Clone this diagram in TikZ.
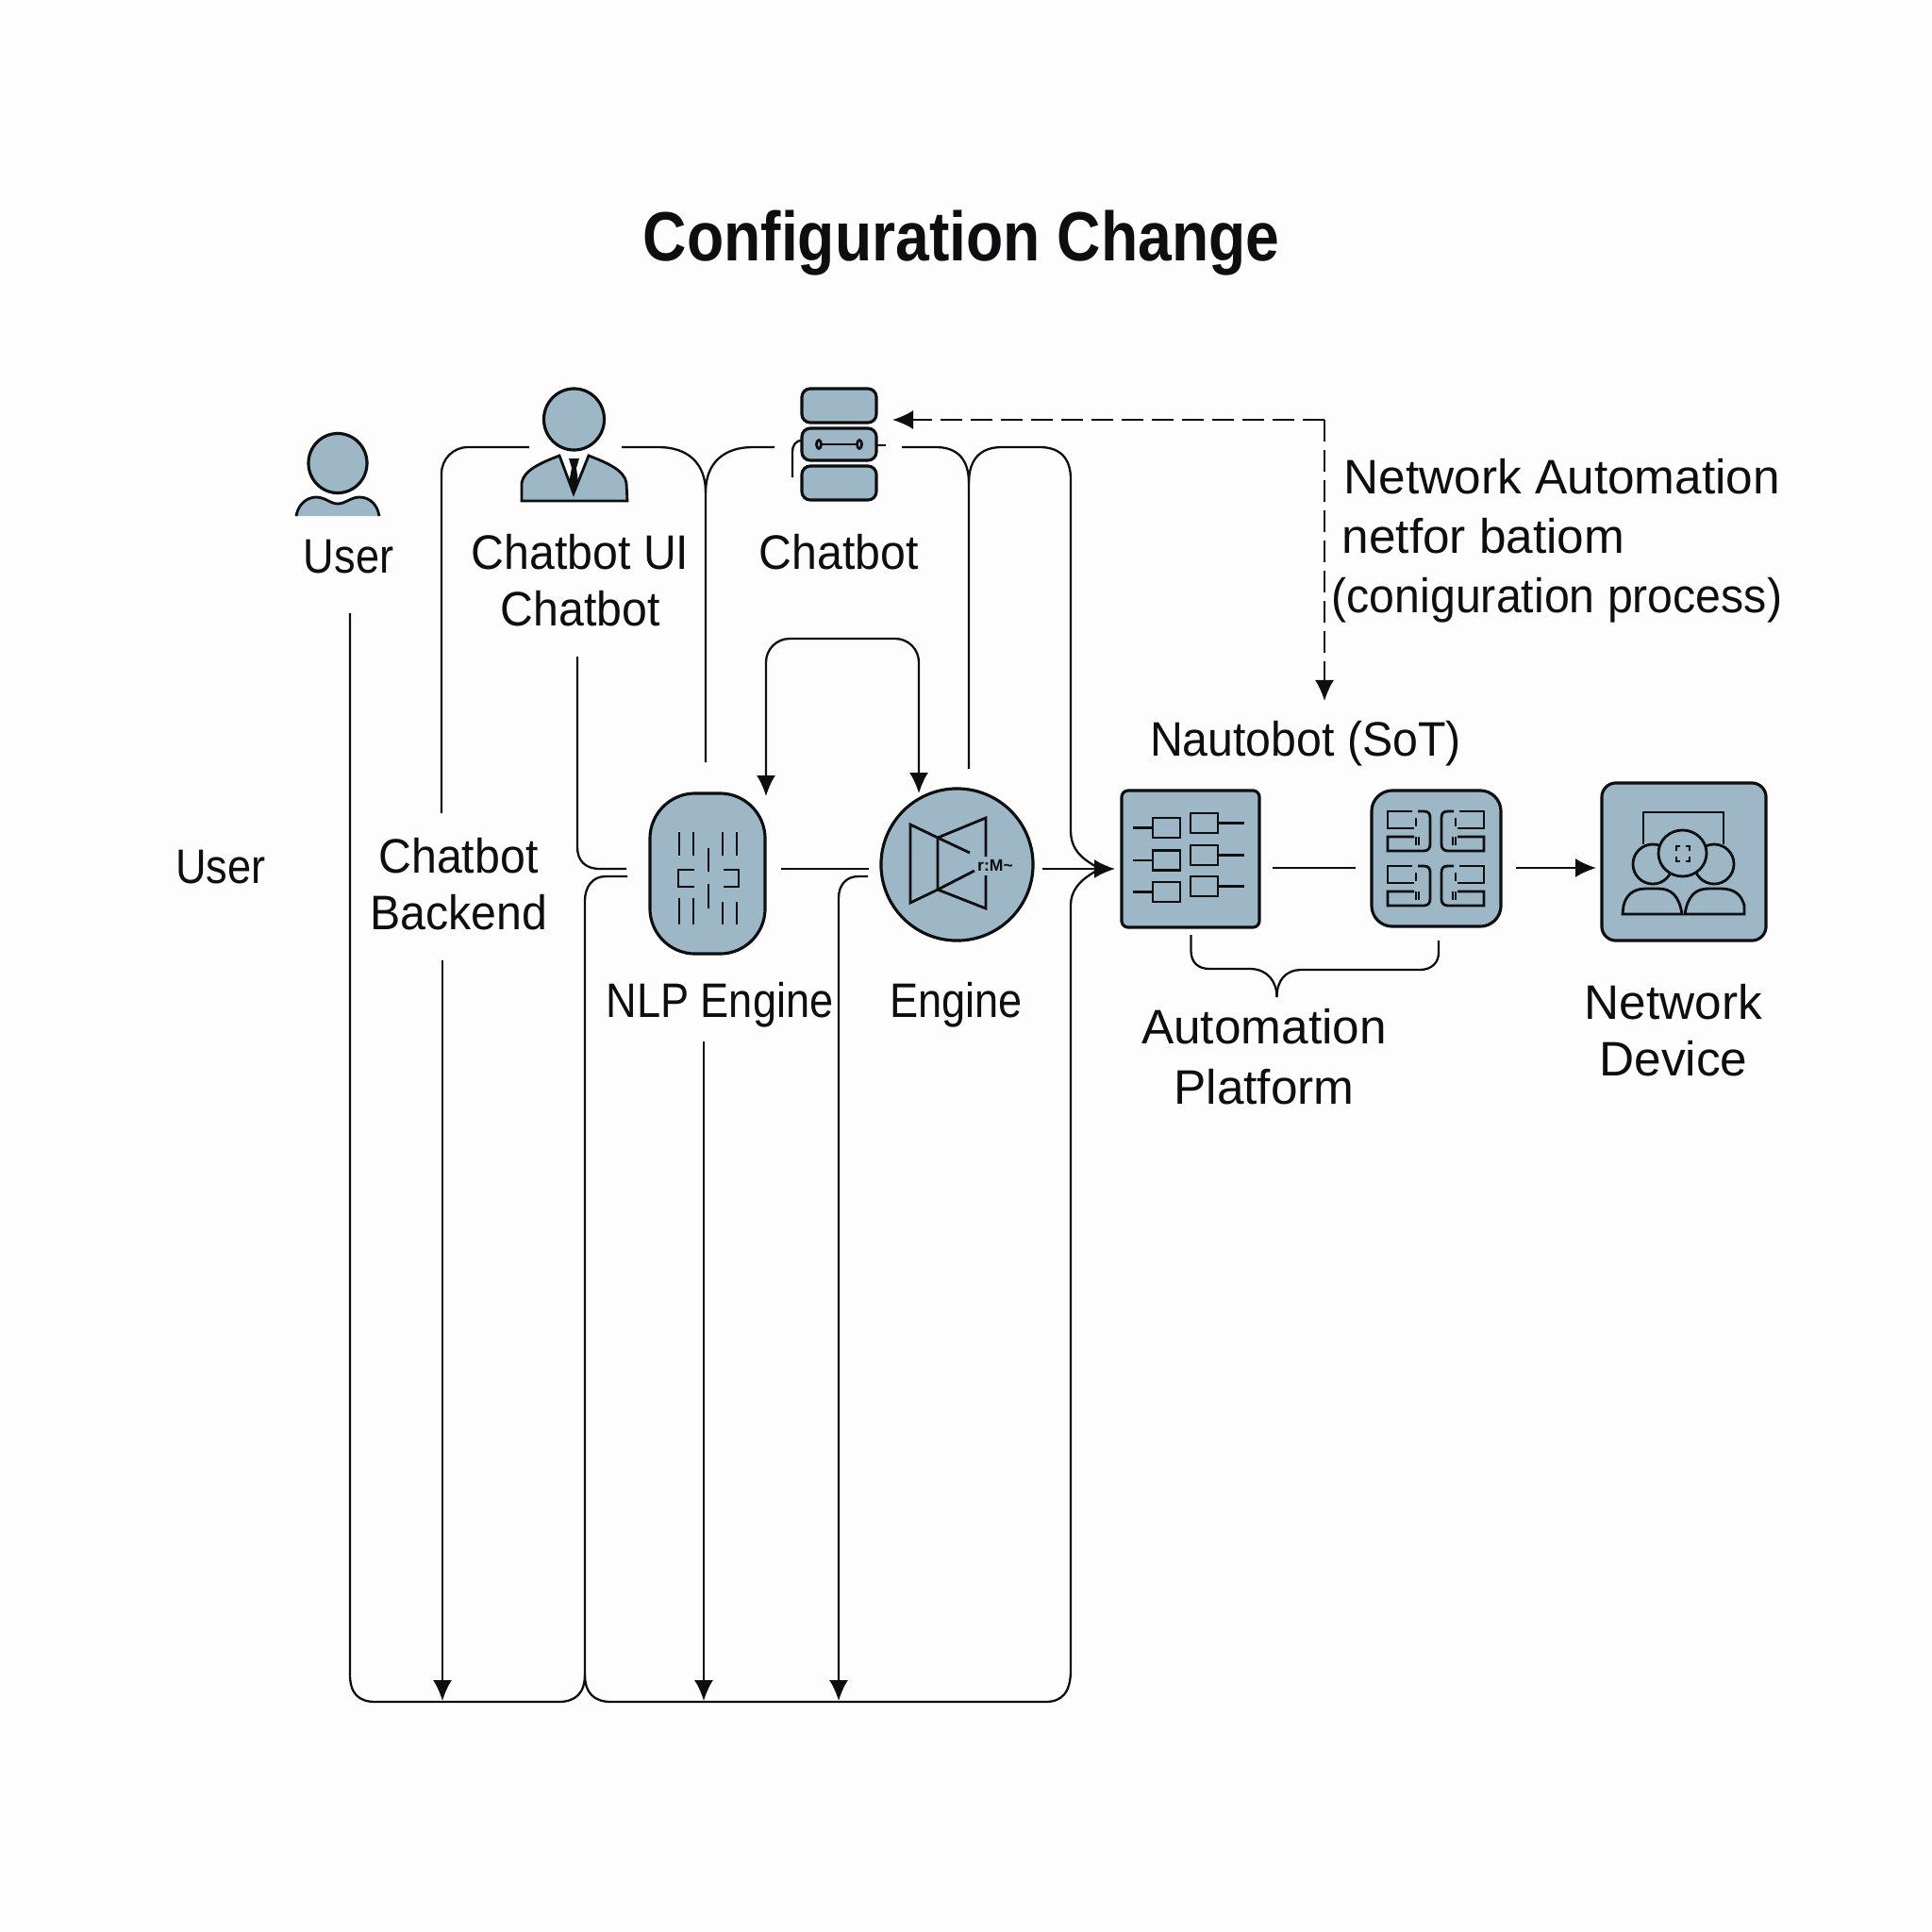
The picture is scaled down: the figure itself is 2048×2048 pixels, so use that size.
\documentclass[tikz,border=0pt]{standalone}
\usepackage{fontspec}
\usetikzlibrary{arrows.meta,shapes.geometric}
\setmainfont{Liberation Sans}
\newfontfamily\midfont[FakeStretch=0.94]{Liberation Sans}
\newfontfamily\slimfont[FakeStretch=0.88]{Liberation Sans}
\newfontfamily\titlefont[FakeStretch=0.87]{Liberation Sans}
\definecolor{iconFill}{RGB}{157,183,198}
\definecolor{inkLine}{RGB}{12,14,16}
\definecolor{pageBg}{RGB}{253,253,253}
\tikzset{
    every node/.append style={align=center},
    lbl/.style={inner sep=0pt,text=inkLine,font=\midfont\fontsize{14.6}{17.2}\selectfont},
    lblw/.style={inner sep=0pt,text=inkLine,font=\fontsize{14.6}{17.2}\selectfont},
    lbln/.style={inner sep=0pt,text=inkLine,font=\slimfont\fontsize{14.6}{17.2}\selectfont},
    ttl/.style={inner sep=0pt,text=inkLine,font=\titlefont\bfseries\fontsize{21}{25}\selectfont},
    conn/.style={draw=inkLine,line width=0.65pt},
    arr/.style={conn,-{Latex[length=2.2mm,width=2mm]}},
    darr/.style={arr,dash pattern=on 2.3mm off 0.9mm},
    shell/.style={draw=inkLine,line width=0.9pt,fill=iconFill,inner sep=0pt},
    icon/.style={draw=inkLine,line width=0.8pt},
    head/.style={shell,ellipse},
    srv/.style={shell,rectangle,rounded corners=0.09cm,minimum width=0.79cm},
    tile/.style={shell,rectangle},
    sq/.style={icon,rectangle,inner sep=0pt,minimum width=0.29cm,minimum height=0.21cm}
}
\begin{document}
\begin{tikzpicture}[x=0.01cm,y=-0.01cm]
    \useasboundingbox[fill=pageBg] (0,0) rectangle (2048,2048);

    \node[ttl] (title) at (1019,258) {Configuration Change};

    % top row icons
    \node[head,minimum width=0.62cm,minimum height=0.63cm] (userHead) at (358,491) {};
    \fill[iconFill] (314,547) .. controls (316,534) and (326,527) .. (335,527) .. controls (345,527) and (350,534) .. (358,534)
        .. controls (366,534) and (372,527) .. (381,527) .. controls (391,527) and (400,534) .. (402,547) -- cycle;
    \draw[icon] (314,547) .. controls (316,534) and (326,527) .. (335,527) .. controls (345,527) and (350,534) .. (358,534)
        .. controls (366,534) and (372,527) .. (381,527) .. controls (391,527) and (400,534) .. (402,547);
    \node[head,minimum width=0.64cm,minimum height=0.65cm] (uiHead) at (608.5,444.5) {};
    \draw[icon,fill=iconFill] (553,531) -- (553,512) .. controls (555,498) and (575,490) .. (593,483) -- (608,523) -- (624,483)
        .. controls (642,490) and (662,498) .. (664,512) -- (665,531) -- cycle;
    \fill[inkLine] (603,486) -- (614,486) -- (611,496) -- (613,512) -- (608,523) -- (603,512) -- (606,496) -- cycle;
    \node[srv,minimum height=0.36cm] (srvTop) at (889.5,430) {};
    \node[srv,minimum height=0.34cm] (srvMid) at (889.5,471) {};
    \node[srv,minimum height=0.36cm] (srvLow) at (889.5,512) {};
    \draw[icon] (871,471) -- (908,471);
    \foreach \dx in {868,911} { \node[icon,ellipse,inner sep=0pt,minimum width=0.05cm,minimum height=0.09cm] at (\dx,471) {}; }
    \draw[conn] (850,467) .. controls (843,467) and (840,472) .. (840,480) -- (840,506);
    \draw[conn] (929,472) -- (939,472);

    % middle row
    \node[shell,rectangle,rounded corners=0.48cm,minimum width=1.22cm,minimum height=1.7cm] (nlp) at (750,926) {};
    \foreach \vx in {720,735,766,781} { \draw[icon] (\vx,882) -- (\vx,907); }
    \foreach \vx in {720,735} { \draw[icon] (\vx,952) -- (\vx,980); }
    \foreach \vx in {766,781} { \draw[icon] (\vx,956) -- (\vx,980); }
    \draw[icon] (751,899) -- (751,924);
    \draw[icon] (751,937) -- (751,963);
    \draw[icon] (736,922) -- (719,922) -- (719,940) -- (736,940);
    \draw[icon] (767,922) -- (783,922) -- (783,940) -- (767,940);
    \node[shell,circle,minimum size=1.61cm] (engine) at (1014.5,916.5) {};
    \draw[icon] (994,888) -- (965,874) -- (965,957) -- (994,943) -- cycle;
    \draw[icon] (994,888) -- (1045,867) -- (1045,908);
    \draw[icon] (994,943) -- (1045,963) -- (1045,928);
    \draw[icon] (994,888) -- (1028,904);
    \draw[icon] (994,943) -- (1033,923);
    \node[inner sep=0pt,text=inkLine,font=\bfseries\fontsize{5}{6}\selectfont] (engineMark) at (1055,917) {r:M\textasciitilde};

    \node[tile,rounded corners=0.07cm,minimum width=1.46cm,minimum height=1.45cm] (autoA) at (1262,910.5) {};
    \foreach \ry in {877.5,912,945.5} {
        \node[sq] at (1236.5,\ry) {};
        \draw[icon] (1201,\ry) -- (1222,\ry);
    }
    \foreach \ry in {872.5,906.5,939.5} {
        \node[sq] at (1276.5,\ry) {};
        \draw[icon] (1291,\ry) -- (1319,\ry);
    }
    \node[tile,rounded corners=0.22cm,minimum width=1.37cm,minimum height=1.44cm] (autoB) at (1522.5,910) {};
    \foreach \sx/\ox/\oy in {1/1471/859,1/1471/917,-1/1573/859,-1/1573/917} {
        \begin{scope}[shift={(\ox,\oy)},xscale=\sx]
            \draw[icon] (26,1) -- (0,1) -- (0,19) -- (28,19);
            \draw[icon] (28,28) -- (0,28) -- (0,43) -- (38,43) .. controls (43,43) and (45,40) .. (45,36)
                -- (45,8) .. controls (45,3) and (43,1) .. (38,1) -- (32,1);
            \draw[icon] (30,8) -- (30,17);
            \draw[icon] (30,28) -- (30,37);
            \draw[icon] (33,28) -- (33,37);
        \end{scope}
    }
    \node[tile,rounded corners=0.15cm,minimum width=1.74cm,minimum height=1.67cm] (device) at (1785,913.5) {};
    \draw[icon] (1742,895) -- (1742,861) -- (1827,861) -- (1827,895);
    \node[icon,ellipse,fill=iconFill,inner sep=0pt,minimum width=0.42cm,minimum height=0.42cm] (devL) at (1752,916) {};
    \node[icon,ellipse,fill=iconFill,inner sep=0pt,minimum width=0.42cm,minimum height=0.42cm] (devR) at (1817,916) {};
    \node[icon,ellipse,fill=iconFill,inner sep=0pt,minimum width=0.51cm,minimum height=0.49cm] (devC) at (1783.5,904.5) {};
    \draw[icon] (1777,902) -- (1777,897) -- (1781,897);
    \draw[icon] (1791,902) -- (1791,897) -- (1787,897);
    \draw[icon] (1777,908) -- (1777,913) -- (1781,913);
    \draw[icon] (1791,908) -- (1791,913) -- (1787,913);
    \draw[icon] (1720,969) -- (1721,960) .. controls (1724,948) and (1732,942) .. (1745,942) -- (1758,942)
        .. controls (1772,942) and (1780,950) .. (1783,969) -- cycle;
    \draw[icon] (1786,969) .. controls (1789,950) and (1797,942) .. (1811,942) -- (1824,942)
        .. controls (1838,942) and (1846,948) .. (1849,960) -- (1849,969) -- cycle;

    % labels
    \node[lbln] (lUserTop) at (369.6,590) {User};
    \node[lbl] (lChatUi) at (615,615) {Chatbot UI\\Chatbot};
    \node[lbl] (lChatbot) at (889,585) {Chatbot};
    \node[lblw,anchor=west] (lNetAuto) at (1424,505) {Network Automation};
    \node[lblw,anchor=west] (lNetFor) at (1422,568) {netfor batiom};
    \node[lbl,anchor=west] (lConfig) at (1411,636) {(coniguration process)};
    \node[lbl] (lNautobot) at (1384,788) {Nautobot (SoT)};
    \node[lbln] (lUserLeft) at (234,919) {User};
    \node[lbl] (lBackend) at (486,937) {Chatbot\\Backend};
    \node[lbln] (lNlp) at (763,1065) {NLP Engine};
    \node[lbln] (lEngine) at (1013.5,1065) {Engine};
    \node[lblw] (lPlatform) at (1340,1120) {Automation\\[1pt]Platform};
    \node[lblw] (lDevice) at (1774,1092) {Network\\Device};

    % connector ends
    \coordinate (uiLeft) at (561,474);
    \coordinate (uiRight) at (659,474);
    \coordinate (botLeft) at (821,474);
    \coordinate (botRight) at (956,474);
    \coordinate (backTop) at (468,862);
    \coordinate (backLow) at (469,1018);
    \coordinate (backEnd) at (469,1803);
    \coordinate (nlpTop) at (748,808);
    \coordinate (nlpLow) at (746,1104);
    \coordinate (nlpEnd) at (746,1803);
    \coordinate (engTop) at (1027,815);
    \coordinate (userLow) at (371,650);
    \coordinate (uiLow) at (612,696);
    \coordinate (nlpInA) at (664,921);
    \coordinate (nlpInB) at (665,929);
    \coordinate (nlpOut) at (828,921);
    \coordinate (engInA) at (921,921);
    \coordinate (engInB) at (920,929);
    \coordinate (engLowEnd) at (889,1803);
    \coordinate (engOut) at (1105,921);
    \coordinate (autoIn) at (1182,921);
    \coordinate (autoJoin) at (1166,921);
    \coordinate (loopA) at (812,844);
    \coordinate (loopB) at (974,841);
    \coordinate (autoMid) at (1349,920);
    \coordinate (autoMidB) at (1437,920);
    \coordinate (autoOut) at (1607,920);
    \coordinate (devIn) at (1692,920);
    \coordinate (dashA) at (946,445);
    \coordinate (dashB) at (1404,743);
    \coordinate (braceA) at (1262.5,991);
    \coordinate (braceB) at (1525,997);
    \coordinate (braceTip) at (1353.5,1057);

    % connectors
    \draw[conn,rounded corners=0.28cm] (uiLeft) -- (468,474) -- (backTop);
    \draw[arr] (backLow) -- (backEnd);
    \draw[conn] (uiRight) -- (698,474) .. controls (728,474) and (748,490) .. (748,522) -- (nlpTop);
    \draw[conn] (botLeft) -- (798,474) .. controls (768,474) and (748,490) .. (748,522);
    \draw[conn] (botRight) -- (992,474) .. controls (1014,474) and (1027,486) .. (1027,512) -- (engTop);
    \draw[conn] (1027,512) .. controls (1027,486) and (1040,474) .. (1062,474) -- (1102,474)
        .. controls (1124,474) and (1135,486) .. (1135,508) -- (1135,880)
        .. controls (1135,902) and (1148,911) .. (autoJoin);
    \draw[<->,>={Latex[length=2.2mm,width=2mm]},conn,rounded corners=0.25cm] (loopA) -- (812,677) -- (974,677) -- (loopB);
    \draw[arr] (nlpLow) -- (nlpEnd);

    \draw[conn] (uiLow) -- (612,898) .. controls (612,912) and (620,921) .. (636,921) -- (nlpInA);
    \draw[conn] (nlpOut) -- (engInA);
    \draw[arr] (engInB) -- (910,929) .. controls (897,929) and (889,938) .. (889,952) -- (engLowEnd);
    \draw[arr] (engOut) -- (autoIn);

    \draw[conn] (userLow) -- (371,1775) .. controls (371,1795) and (380,1804) .. (398,1804) -- (592,1804)
        .. controls (610,1804) and (620,1795) .. (620,1775) -- (620,955) .. controls (620,940) and (628,929) .. (642,929) -- (nlpInB);
    \draw[conn] (620,1775) .. controls (620,1795) and (630,1804) .. (648,1804) -- (1108,1804)
        .. controls (1125,1804) and (1135,1795) .. (1135,1770) -- (1135,960)
        .. controls (1135,942) and (1147,931) .. (autoJoin);

    \draw[conn] (autoMid) -- (autoMidB);
    \draw[arr] (autoOut) -- (devIn);
    \draw[darr] (dashB |- 0,445) -- (dashA);
    \draw[darr] (dashB |- 0,445) -- (dashB);

    \draw[conn] (braceA) -- (1262.5,1008) .. controls (1262.5,1020) and (1270,1027) .. (1282,1027) -- (1325,1027)
        .. controls (1343,1027) and (1353.5,1040) .. (braceTip);
    \draw[conn] (braceTip) .. controls (1353.5,1040) and (1362,1028) .. (1380,1028) -- (1505,1028)
        .. controls (1518,1028) and (1525,1020) .. (1525,1010) -- (braceB);
\end{tikzpicture}
\end{document}
